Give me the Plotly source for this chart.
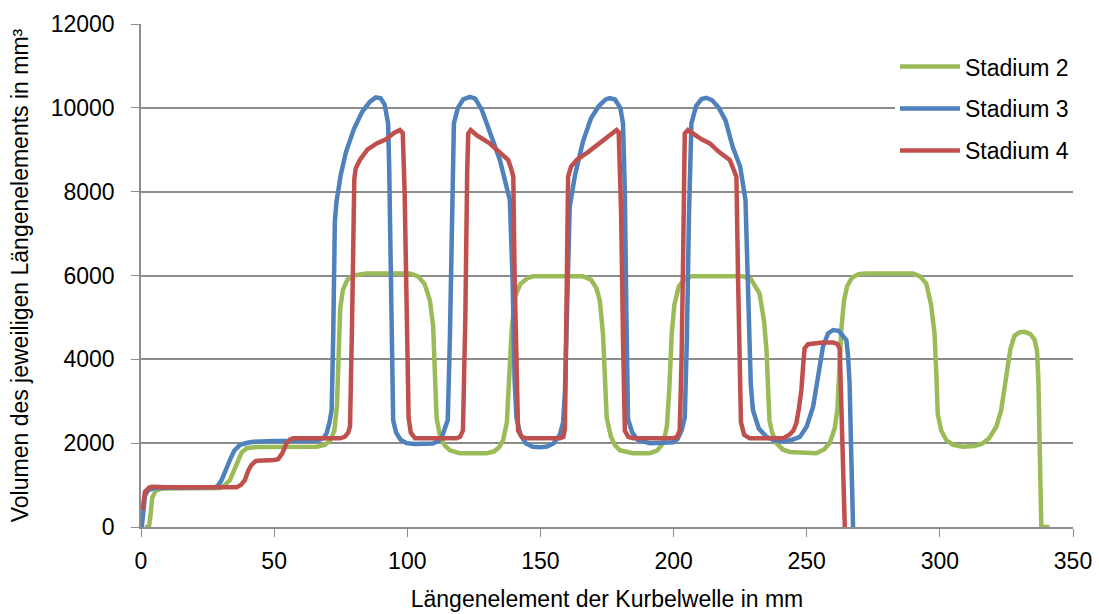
import plotly.graph_objects as go

# Längenelement (mm) and Volumen (mm³)
STADIUM_2 = [(1.5,0),(3,0),(3.6,300),(4.2,700),(5.5,860),(8,920),(29.7,930),(31.5,1000),(33.4,1120),(35.9,1520),(37.8,1780),(39.7,1880),(43,1910),(66,1915),(69,1960),(71,2060),(72.6,2300),(73.6,2900),(74.2,4200),(74.8,5200),(75.8,5650),(77.5,5900),(80,6000),(84.7,6050),(101,6050),(104,5980),(106.5,5800),(108.5,5400),(109.7,4800),(110.4,3500),(111,2600),(112.2,2200),(114,1950),(116,1830),(119.7,1760),(129.8,1760),(132.5,1800),(134.5,1900),(136,2075),(137.4,2500),(138.3,3500),(139.2,4700),(140.5,5500),(142.5,5800),(145,5930),(147.1,5980),(166,5980),(169,5900),(171,5700),(172.3,5400),(173.5,4600),(174.3,3300),(174.9,2600),(176.5,2150),(178,1950),(179.8,1830),(184.7,1760),(191.1,1760),(193.8,1820),(196.1,2000),(197.5,2400),(198.4,3300),(199.3,4600),(200.3,5300),(202,5750),(204.8,5950),(207,5980),(226,5980),(229,5920),(232.3,5570),(234,4900),(234.9,4220),(235.4,3000),(236,2550),(237,2250),(238.6,2000),(241,1850),(243.6,1790),(253.6,1760),(256.5,1850),(258.6,2000),(260.5,2350),(261.5,2800),(262.2,3800),(263,4700),(264,5400),(265.2,5750),(267,5950),(269.5,6030),(272,6050),(289.9,6050),(292.5,5980),(294.9,5810),(296.7,5300),(298,4620),(298.7,3600),(299.2,2700),(300.5,2300),(302.4,2075),(305,1960),(308.7,1915),(313,1930),(316,1990),(318.5,2120),(321.2,2390),(323,2780),(324.3,3270),(325.5,3800),(326.5,4250),(328,4560),(330,4650),(331.8,4660),(334,4600),(335.6,4460),(336.5,4200),(337,3500),(337.6,1500),(338.1,0),(341.2,0)]

STADIUM_3 = [(0.3,0),(0.8,400),(1.5,750),(2.7,880),(5,930),(27.8,950),(29,990),(30.3,1120),(32,1350),(33.4,1600),(35,1820),(37.2,1960),(40,2010),(42.2,2035),(50,2050),(66,2060),(68.5,2120),(69.7,2235),(70.8,2500),(71.6,2790),(72.2,4620),(72.8,7300),(73.4,7750),(75,8400),(77,8950),(80,9500),(83,9900),(86,10150),(88.2,10250),(90,10230),(91.5,10080),(92.5,9800),(92.8,9630),(93.2,8600),(93.8,6000),(94.3,4000),(94.7,2550),(95.8,2250),(97.5,2080),(99.7,2000),(103,1980),(109.6,1990),(111.5,2050),(113,2150),(114.5,2400),(115.2,2550),(116,4500),(116.8,7500),(117.5,9630),(119,10000),(121,10200),(123.5,10260),(125.5,10220),(128,9950),(131,9450),(134.8,8750),(138.5,7800),(139.5,6000),(140.3,3500),(141,2600),(142.5,2200),(144.5,2000),(147.1,1915),(149.8,1900),(152.5,1920),(155,2000),(157.3,2200),(158.5,2500),(159.2,3200),(160,5000),(161,7640),(163,8400),(166,9200),(169,9750),(172,10050),(174.5,10200),(176,10230),(178,10200),(180,10000),(181,9630),(181.7,8000),(182.3,5000),(182.9,2570),(184.5,2250),(186.5,2080),(191.1,2000),(196,2000),(199.8,2020),(201.5,2100),(203,2300),(204.2,2600),(205,4500),(205.8,7500),(206.7,9630),(208.5,10050),(210.5,10210),(212.3,10240),(214.5,10180),(217,10000),(219.5,9700),(222.2,9070),(225,8600),(227,7800),(227.6,6500),(228.3,4800),(229,3400),(229.8,2790),(232,2350),(234.9,2150),(238,2060),(241.1,2035),(244.5,2080),(247.4,2150),(250,2400),(252.4,2870),(254.5,3600),(256.1,4300),(258,4620),(259.9,4700),(262,4680),(263.8,4560),(264.9,4460),(265.5,4100),(266.1,3430),(266.7,1800),(267.4,0),(268.2,0)]

STADIUM_4 = [(0.6,405),(1.5,840),(3,940),(4,960),(10,950),(35.9,950),(37.5,1000),(39,1120),(40.3,1350),(41.5,1480),(43,1570),(44,1580),(50,1600),(51.5,1620),(53,1750),(54.7,2000),(56,2090),(57.2,2115),(74.7,2115),(76.5,2150),(77.8,2250),(78.5,2400),(79.3,5000),(80.1,8300),(80.6,8550),(82.2,8755),(85,9000),(88.5,9150),(92,9250),(95,9400),(97.2,9470),(98.3,9400),(99,8000),(99.8,5000),(100.5,2600),(101.3,2250),(102.9,2115),(118.5,2115),(119.8,2150),(120.9,2300),(121.8,5000),(122.5,8500),(122.9,9390),(123.8,9470),(126,9350),(128.5,9250),(131,9150),(134.5,8950),(137.9,8755),(139,8550),(139.8,8360),(140.3,6000),(140.9,3800),(141.6,2300),(143,2150),(144.8,2115),(157.3,2115),(158.6,2150),(159.2,2350),(159.8,5000),(160.4,8360),(161.5,8600),(163.6,8755),(168,8950),(172.3,9150),(176,9320),(178.6,9470),(179.4,9420),(180.3,7500),(181,4500),(181.7,2300),(183,2150),(184.7,2115),(199.7,2115),(201.3,2150),(202.3,2300),(203,4000),(203.6,6500),(204.2,9390),(205.4,9470),(208,9350),(210.5,9250),(213.6,9150),(217,8950),(221.1,8755),(222.6,8550),(223.6,8360),(224.2,6000),(224.7,3500),(225.3,2500),(226.5,2200),(228.6,2115),(241.1,2115),(243.5,2200),(245,2300),(246.1,2470),(247,2800),(248,3270),(248.6,3800),(249.2,4260),(250.5,4360),(252.4,4380),(256,4400),(259.9,4400),(261.5,4370),(262.4,4250),(263,3000),(263.6,1500),(264.3,0)]

SERIES_NAMES = ["Stadium 2", "Stadium 3", "Stadium 4"]
SERIES_COLORS = ["#9BBB59", "#4F81BD", "#C0504D"]
X_TICKS = [0, 50, 100, 150, 200, 250, 300, 350]
Y_TICKS = [0, 2000, 4000, 6000, 8000, 10000, 12000]

fig = go.Figure()
for name, color, data in zip(SERIES_NAMES, SERIES_COLORS,
                             [STADIUM_2, STADIUM_3, STADIUM_4]):
    xs = [p[0] for p in data]
    ys = [p[1] for p in data]
    fig.add_trace(go.Scatter(x=xs, y=ys, mode="lines", name=name,
                             legendgroup=name,
                             line=dict(color=color, width=4.5)))

grid = "#8C8C8C"
font = "Liberation Sans, Arial, sans-serif"
fig.update_layout(
    width=1099, height=614,
    margin=dict(l=141, r=26, t=24, b=87, autoexpand=False),
    paper_bgcolor="white", plot_bgcolor="white",
    font=dict(family=font, size=22, color="black"),
    showlegend=True,
    legend=dict(x=0.809, xanchor="left", y=0.958, yanchor="top",
                bgcolor="white", traceorder="grouped", tracegroupgap=9,
                itemwidth=60, font=dict(size=23, family=font)),
)
fig.update_xaxes(range=[0, 350], tickvals=X_TICKS,
                 ticktext=[str(v) for v in X_TICKS],
                 ticks="outside", ticklen=8, automargin=False,
                 tickcolor=grid, showline=True, linecolor=grid, linewidth=1.5,
                 showgrid=False, zeroline=False, ticklabelstandoff=5,
                 tickfont=dict(size=23, family=font),
                 title=dict(text="Längenelement der Kurbelwelle in mm",
                            font=dict(size=23, family=font), standoff=18))
fig.update_yaxes(range=[0, 12000], tickvals=Y_TICKS,
                 ticktext=[str(v) for v in Y_TICKS],
                 ticks="outside", ticklen=8, automargin=False,
                 tickcolor=grid, showline=True, linecolor=grid, linewidth=1.5,
                 showgrid=True, gridcolor=grid, gridwidth=1.5, zeroline=False,
                 ticklabelstandoff=12,
                 tickfont=dict(size=23, family=font),
                 title=dict(text="Volumen des jeweiligen Längenelements in mm³",
                            font=dict(size=23, family=font), standoff=16))

fig.write_html("out.html",
               config={"displayModeBar": False},
               post_script="document.body.style.margin='0';")
